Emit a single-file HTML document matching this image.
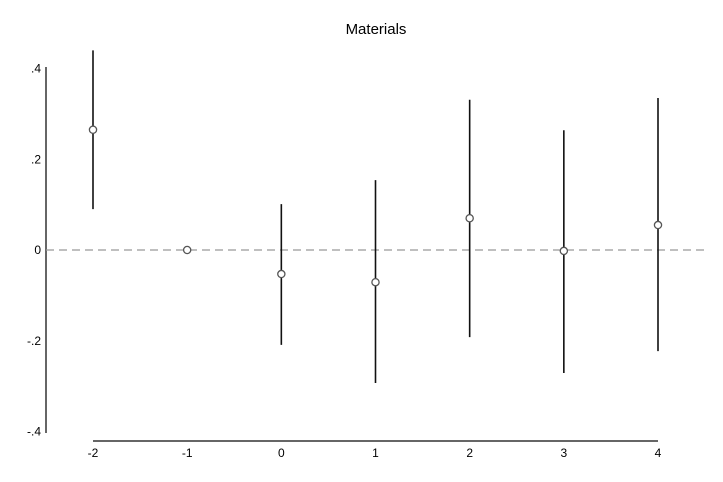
<!DOCTYPE html>
<html><head><meta charset="utf-8"><style>
html,body{margin:0;padding:0;background:#fff;}
svg{display:block;font-family:"Liberation Sans",Arial,sans-serif;}
</style></head><body>
<svg id="chart" width="723" height="482">
<text x="376" y="34" font-size="15" text-anchor="middle" fill="#000">Materials</text>
<line x1="46" y1="67" x2="46" y2="433" stroke="#666" stroke-width="2"/>
<line x1="93" y1="441" x2="658" y2="441" stroke="#666" stroke-width="2"/>
<g id="marks"></g>
</svg>
<script>
const categories = [-2, -1, 0, 1, 2, 3, 4];
const estimates = [0.265, 0, -0.053, -0.071, 0.07, -0.002, 0.055];
const ciLower = [0.09, null, -0.209, -0.293, -0.192, -0.271, -0.223];
const ciUpper = [0.44, null, 0.101, 0.154, 0.331, 0.264, 0.335];
const yTicks = [0.4, 0.2, 0, -0.2, -0.4];
const yTickLabels = [".4", ".2", "0", "-.2", "-.4"];

const ns = "http://www.w3.org/2000/svg";
const svg = document.getElementById('chart');
const g = document.getElementById('marks');
function xs(v){ return 93 + (v + 2) * (658 - 93) / 6; }
function ys(v){ return 250 - v * 453.75; }
function mk(tag, attrs, parent){ const e = document.createElementNS(ns, tag); for (const k in attrs) e.setAttribute(k, attrs[k]); (parent||g).appendChild(e); return e; }

yTicks.forEach((t, i) => {
  const tx = mk('text', {x: 41, y: ys(t) + 4, 'font-size': 12, 'text-anchor': 'end', fill: '#000'}, svg);
  tx.textContent = yTickLabels[i];
  
  
});
categories.forEach(c => {
  const tx = mk('text', {x: xs(c), y: 457, 'font-size': 12, 'text-anchor': 'middle', fill: '#000'}, svg);
  tx.textContent = String(c);
  
  
});
const ref = mk('line', {x1: 46, x2: 706, y1: ys(0), y2: ys(0), stroke: '#999', 'stroke-width': 1.2, 'stroke-dasharray': '8,5'});


categories.forEach((c, i) => {
  if (ciLower[i] !== null) {
    const l = mk('line', {x1: xs(c), x2: xs(c), y1: ys(ciUpper[i]), y2: ys(ciLower[i]), stroke: '#111', 'stroke-width': 1.6});
    
    
  }
  const p = mk('circle', {cx: xs(c), cy: ys(estimates[i]), r: 3.6, fill: '#fff', stroke: '#555', 'stroke-width': 1.3});
  
  
});
</script>
</body></html>
